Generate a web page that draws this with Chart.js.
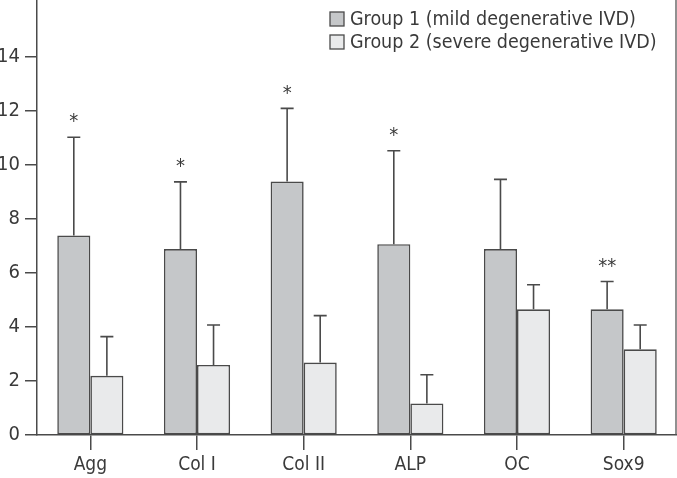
<!DOCTYPE html>
<html>
<head>
<meta charset="utf-8">
<script src="https://cdn.jsdelivr.net/npm/chart.js@4/dist/chart.umd.min.js"></script>
<style>
  html, body { margin: 0; padding: 0; background: #fff; }
  #wrap { width: 677px; height: 478px; position: relative; }
</style>
</head>
<body>
<div id="wrap"><canvas id="c" width="677" height="478"></canvas></div>
<script>
const categories = ["Agg", "Col I", "Col II", "ALP", "OC", "Sox9"];
const seriesNames = ["Group 1 (mild degenerative IVD)", "Group 2 (severe degenerative IVD)"];
const group1 = [7.38, 6.88, 9.38, 7.06, 6.88, 4.65];
const group2 = [2.19, 2.59, 2.68, 1.17, 4.65, 3.17];
const group1Err = [3.64, 2.49, 2.71, 3.46, 2.58, 1.03];
const group2Err = [1.45, 1.48, 1.74, 1.06, 0.91, 0.90];
const significance = ["*", "*", "*", "*", "", "**"];
const yTicks = [0, 2, 4, 6, 8, 10, 12, 14];

const FONT = "'DejaVu Sans Condensed', 'Liberation Sans Narrow', sans-serif";
const TEXT = "#3a3a3a";
const LINE = "#4a4a4a";

const extras = {
  id: "extras",
  afterDatasetsDraw(chart) {
    const ctx = chart.ctx;
    const y = chart.scales.y;
    const errs = [group1Err, group2Err];
    ctx.save();
    ctx.strokeStyle = LINE;
    ctx.lineWidth = 1.6;
    chart.data.datasets.forEach((ds, di) => {
      const meta = chart.getDatasetMeta(di);
      meta.data.forEach((bar, i) => {
        const top = y.getPixelForValue(ds.data[i]);
        const errTop = y.getPixelForValue(ds.data[i] + errs[di][i]);
        ctx.beginPath();
        ctx.moveTo(bar.x, top);
        ctx.lineTo(bar.x, errTop);
        ctx.moveTo(bar.x - 6.5, errTop);
        ctx.lineTo(bar.x + 6.5, errTop);
        ctx.stroke();
        if (di === 0 && significance[i]) {
          ctx.fillStyle = TEXT;
          ctx.font = "20px " + FONT;
          ctx.textAlign = "center";
          ctx.textBaseline = "middle";
          ctx.fillText(significance[i], bar.x, errTop - 15);
        }
      });
    });
    // right frame line
    const a = chart.chartArea;
    ctx.strokeStyle = "#555";
    ctx.lineWidth = 1.3;
    ctx.beginPath();
    ctx.moveTo(a.right - 1, 0);
    ctx.lineTo(a.right - 1, a.bottom);
    ctx.stroke();
    // legend
    const fills = [chart.data.datasets[0].backgroundColor, chart.data.datasets[1].backgroundColor];
    const rowsY = [19, 42];
    ctx.font = "19.5px " + FONT;
    ctx.textAlign = "left";
    ctx.textBaseline = "middle";
    seriesNames.forEach((name, k) => {
      ctx.fillStyle = fills[k];
      ctx.fillRect(330, rowsY[k] - 7, 14, 14);
      ctx.strokeStyle = LINE;
      ctx.lineWidth = 1.3;
      ctx.strokeRect(330, rowsY[k] - 7, 14, 14);
      ctx.fillStyle = TEXT;
      ctx.fillText(name, 350, rowsY[k] + 1);
    });
    ctx.restore();
  }
};

new Chart(document.getElementById("c"), {
  type: "bar",
  data: {
    labels: categories,
    datasets: [
      { label: seriesNames[0], data: group1, backgroundColor: "#c5c7c9", borderColor: LINE, borderWidth: 1.6, borderSkipped: false },
      { label: seriesNames[1], data: group2, backgroundColor: "#e9eaeb", borderColor: LINE, borderWidth: 1.6, borderSkipped: false }
    ]
  },
  options: {
    responsive: false,
    animation: false,
    devicePixelRatio: 1,
    layout: { padding: { top: 0, right: 0, left: 0, bottom: 0 } },
    datasets: { bar: { categoryPercentage: 0.62, barPercentage: 1.0 } },
    plugins: { legend: { display: false }, tooltip: { enabled: false } },
    scales: {
      x: {
        afterFit(s) { s.height = 43; s.paddingLeft = 0; s.paddingRight = 0; },
        grid: { display: true, offset: false, drawOnChartArea: false, drawTicks: true, tickLength: 15, color: LINE, lineWidth: 1.5 },
        border: { display: true, color: LINE, width: 1.5 },
        ticks: { color: TEXT, font: { family: FONT, size: 19 }, padding: 4 }
      },
      y: {
        min: 0,
        max: 16.1,
        afterFit(s) { s.width = 37; s.paddingTop = 0; s.paddingBottom = 0; },
        afterBuildTicks(s) { s.ticks = yTicks.map(v => ({ value: v })); },
        grid: { display: true, drawOnChartArea: false, drawTicks: true, tickLength: 12, color: LINE, lineWidth: 1.5 },
        border: { display: true, color: LINE, width: 1.5 },
        ticks: { color: TEXT, font: { family: FONT, size: 20 }, padding: 5 }
      }
    }
  },
  plugins: [extras]
});
</script>
</body>
</html>
